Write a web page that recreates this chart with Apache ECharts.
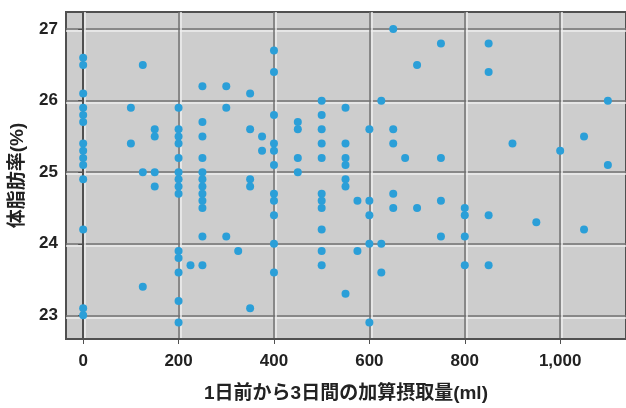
<!DOCTYPE html>
<html>
<head>
<meta charset="utf-8">
<script src="https://cdn.jsdelivr.net/npm/echarts@6/dist/echarts.min.js"></script>
<style>html,body{margin:0;padding:0;background:#fff}#c{width:626px;height:408px}</style>
</head>
<body>
<div id="c"></div>
<script>
// intake (ml) groups and body fat (%) values
const intake = [0, 100, 125, 150, 200, 225, 250, 300, 325, 350, 375, 400, 450, 500, 550, 575, 600, 625, 650, 675, 700, 750, 800, 850, 900, 950, 1000, 1050, 1100];
const bodyFat = [
  [26.6, 26.5, 26.1, 25.9, 25.8, 25.7, 25.4, 25.3, 25.2, 25.1, 24.9, 24.2, 23.1, 23.0],
  [25.9, 25.4],
  [26.5, 25.0, 23.4],
  [25.6, 25.5, 25.0, 24.8],
  [25.9, 25.6, 25.5, 25.4, 25.2, 25.0, 24.9, 24.8, 24.7, 23.9, 23.8, 23.6, 23.2, 22.9],
  [23.7],
  [26.2, 25.7, 25.5, 25.2, 25.0, 24.9, 24.8, 24.7, 24.6, 24.5, 24.1, 23.7],
  [26.2, 25.9, 24.1],
  [23.9],
  [26.1, 25.6, 24.9, 24.8, 23.1],
  [25.5, 25.3],
  [26.7, 26.4, 25.8, 25.4, 25.3, 25.1, 24.7, 24.6, 24.4, 24.0, 23.6],
  [25.7, 25.6, 25.2, 25.0],
  [26.0, 25.8, 25.6, 25.4, 25.2, 24.7, 24.6, 24.5, 24.2, 23.9, 23.7],
  [25.9, 25.4, 25.2, 25.1, 24.9, 24.8, 23.3],
  [24.6, 23.9],
  [25.6, 24.6, 24.4, 24.0, 22.9],
  [26.0, 24.0, 23.6],
  [27.0, 25.6, 25.4, 24.7, 24.5],
  [25.2],
  [26.5, 24.5],
  [26.8, 25.2, 24.6, 24.1],
  [24.5, 24.4, 24.1, 23.7],
  [26.8, 26.4, 24.4, 23.7],
  [25.4],
  [24.3],
  [25.3],
  [25.5, 24.2],
  [26.0, 25.1]
];
const xTicks = [0, 200, 400, 600, 800, 1000];
const yTicks = [23, 24, 25, 26, 27];
const xName = '1日前から3日間の加算摂取量(ml)';
const yName = '体脂肪率(%)';

const points = [];
intake.forEach((x, i) => bodyFat[i].forEach(v => points.push([x, v])));

const chart = echarts.init(document.getElementById('c'), null, {renderer: 'canvas'});
const font = '"Liberation Sans", Arial, "Noto Sans CJK JP", sans-serif';
chart.setOption({
  animation: false,
  backgroundColor: '#ffffff',
  grid: {
    left: 66, top: 12, right: 0, bottom: 65,
    show: true, backgroundColor: '#cdcdcd', borderColor: '#505050', borderWidth: 2
  },
  xAxis: {
    type: 'value', min: -36, max: 1138,
    name: xName, nameLocation: 'middle', nameGap: 45,
    nameTextStyle: {fontFamily: font, fontSize: 19, fontWeight: 'bold', color: '#222'},
    axisLine: {show: true, lineStyle: {color: '#505050', width: 2}},
    axisTick: {show: true, customValues: xTicks, length: 5, lineStyle: {color: '#505050'}},
    axisLabel: {
      customValues: xTicks, margin: 14, fontFamily: font, fontSize: 17, fontWeight: 'bold', color: '#222',
      formatter: v => String(v).replace(/\B(?=(\d{3})+(?!\d))/g, ',')
    },
    splitLine: {show: true, lineStyle: {color: '#707070', width: 1.5,
      shadowColor: '#eeeeee', shadowOffsetX: 2, shadowOffsetY: 0, shadowBlur: 0}}
  },
  yAxis: {
    type: 'value', min: 22.669, max: 27.239,
    name: yName, nameLocation: 'middle', nameGap: 39, nameRotate: 90,
    nameTextStyle: {fontFamily: font, fontSize: 19, fontWeight: 'bold', color: '#222'},
    axisLine: {show: true, lineStyle: {color: '#505050', width: 2}},
    axisTick: {show: true, customValues: yTicks, length: 5, lineStyle: {color: '#505050'}},
    axisLabel: {customValues: yTicks, margin: 8, fontFamily: font, fontSize: 17, fontWeight: 'bold', color: '#222'},
    splitLine: {show: true, lineStyle: {color: '#707070', width: 1.5,
      shadowColor: '#eeeeee', shadowOffsetX: 0, shadowOffsetY: 2, shadowBlur: 0}}
  },
  series: [{
    type: 'scatter',
    data: points,
    symbolSize: 8,
    itemStyle: {color: '#2b9fd8', opacity: 1}
  }]
});
</script>
</body>
</html>
